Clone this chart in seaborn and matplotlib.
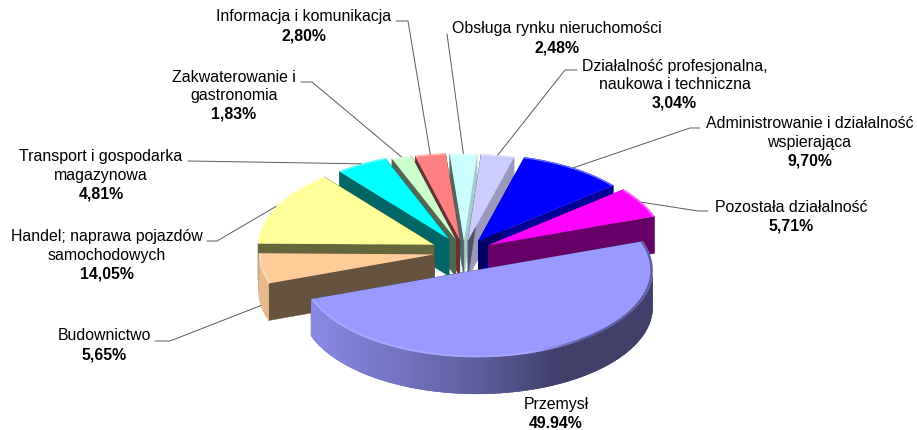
import numpy as np
import matplotlib
matplotlib.use("Agg")
import matplotlib.pyplot as plt
from matplotlib.collections import LineCollection
from matplotlib.colors import to_rgb
from matplotlib.patches import Polygon
import seaborn as sns

# slices clockwise, starting with Przemysl
categories = ["Przemysł", "Budownictwo", "Handel; naprawa pojazdów\nsamochodowych",
              "Transport i gospodarka\nmagazynowa", "Zakwaterowanie i\ngastronomia",
              "Informacja i komunikacja", "Obsługa rynku nieruchomości",
              "Działalność profesjonalna,\nnaukowa i techniczna",
              "Administrowanie i działalność\nwspierająca", "Pozostała działalność"]
values = [49.94, 5.65, 14.05, 4.81, 1.83, 2.80, 2.48, 3.04, 9.70, 5.71]
value_labels = ["49.94%", "5,65%", "14,05%", "4,81%", "1,83%", "2,80%", "2,48%", "3,04%", "9,70%", "5,71%"]

colors = ["#9999ff", "#ffcc99", "#ffff99", "#00ffff", "#ccffcc",
          "#ff8080", "#ccffff", "#ccccff", "#0000ff", "#ff00ff"]
explode = [0.22, 0.17, 0.19, 0.17, 0.15, 0.14, 0.13, 0.13, 0.15, 0.16]
# brightness of the cut face on the clockwise side
cut_shade = [0.4, 0.4, 0.4, 0.4, 0.4, 0.4, 0.8, 0.75, 0.6, 0.4]

# layout in picture pixels
label_xy = [(556, 404.5), (104, 336), (107, 237), (101, 157), (234, 77),
            (303.5, 17), (557, 29), (674.5, 66), (809.5, 124), (791, 207)]
elbows = [None, [(155, 341), (170, 341)], [(207, 241), (217, 241)], [(188, 161)],
          [(301, 82), (312, 82)], [(396, 21), (408, 21)], [(447, 34)],
          [(577, 70), (565, 70)], [(700, 128), (690, 128)], [(708, 211), (698, 211)]]
anchor_drop = [0, 37, 0, 0, 0, 0, 0, 0, 0, 0]
CX, CY, RX, RY = 464, 252, 176, 87
DEPTH = 37 / RY
W, H = 917, 430


def px(x, y):
    return (x - CX) / RX, (CY - y) / RY


def unit(theta):
    t = np.radians(theta)
    return np.array([np.cos(t), np.sin(t)])


def shade(color, f):
    return tuple(c * f for c in to_rgb(color))


sns.set_theme(style="white")
plt.rcParams["font.family"] = ["Liberation Sans", "DejaVu Sans"]

fig = plt.figure(figsize=(W / 100, H / 100), dpi=100)
ax = fig.add_axes([0, 0, 1, 1])
wedges, _ = ax.pie(values, explode=explode, colors=colors, startangle=19.3,
                   counterclock=False, radius=1, wedgeprops={"linewidth": 0})
ax.set_aspect("auto")
ax.set_xlim(px(0, 0)[0], px(W, 0)[0])
ax.set_ylim(px(0, H)[1], px(0, 0)[1])
ax.axis("off")

drop = np.array([0, -DEPTH])
mids = [(w.theta1 + w.theta2) / 2 for w in wedges]
# back slices are painted first
order = sorted(range(len(wedges)), key=lambda i: -np.sin(np.radians(mids[i])))

for z, i in enumerate(order):
    w, col = wedges[i], colors[i]
    base = 10 + z * 10
    c = np.array(w.center)
    # cut faces
    for theta, f in [(w.theta1, cut_shade[i]), (w.theta2, 0.4)]:
        tip = c + unit(theta)
        ax.add_patch(Polygon([c, tip, tip + drop, c + drop], closed=True,
                             fc=shade(col, f), ec=shade(col, f), lw=0.3, zorder=base))
    # rounded outer wall, lit from the left; each strip overlaps the next to hide seams
    thetas = np.arange(w.theta1, w.theta2 + 1, 1.0)
    thetas[-1] = w.theta2
    for a, b in zip(thetas[:-1], thetas[1:]):
        if np.sin(np.radians((a + b) / 2)) > 0:
            continue
        m = np.cos(np.radians((a + b) / 2))
        f = np.interp(m, [-1, 0, 0.45, 1], [0.92, 0.62, 0.42, 0.42])
        pa, pb = c + unit(a), c + unit(min(b + 1.5, w.theta2))
        ax.add_patch(Polygon([pa, pb, pb + drop, pa + drop], closed=True,
                             fc=shade(col, f), ec="none", lw=0, zorder=base + 1))
    w.set_zorder(base + 2)
    # bevel on the rim of the top face
    arc = np.array([c + 0.992 * unit(t) for t in thetas])
    segs = np.stack([arc[:-1], arc[1:]], axis=1)
    if i == 0:
        seg_cols = []
        for t in thetas[:-1]:
            m = np.cos(np.radians(t))
            f = np.interp(m, [-1, 0.3, 0.6, 1], [1.1, 1.1, 0.6, 0.55])
            seg_cols.append(tuple(min(1, v) for v in shade(col, f)))
        ax.add_collection(LineCollection(segs, colors=seg_cols, linewidths=1.5, zorder=base + 3))
    else:
        rim = sns.blend_palette([col, "white"], 3)[1]
        ax.add_collection(LineCollection(segs, colors=[rim], linewidths=0.8, zorder=base + 3))

# labels and leader lines
for i, (name, val) in enumerate(zip(categories, value_labels)):
    x, y = label_xy[i]
    lines = name.split("\n")
    for n, line in enumerate(lines):
        ax.text(*px(x, y + n * 18.7), line, ha="center", va="center", fontsize=11.4,
                color="black", zorder=200)
    ax.text(*px(x, y + len(lines) * 18.7), val, ha="center", va="center", fontsize=11.4,
            fontweight="bold", color="black", zorder=200)
    if elbows[i] is None:
        continue
    pts = [px(*p) for p in elbows[i]]
    end = np.array(wedges[i].center) + unit(mids[i])
    pts.append((end[0], end[1] - anchor_drop[i] / RY))
    pts = np.array(pts)
    ax.plot(pts[:, 0], pts[:, 1], color="#5a5a5a", lw=0.7, zorder=150)

fig.savefig("out.png", dpi=100)
